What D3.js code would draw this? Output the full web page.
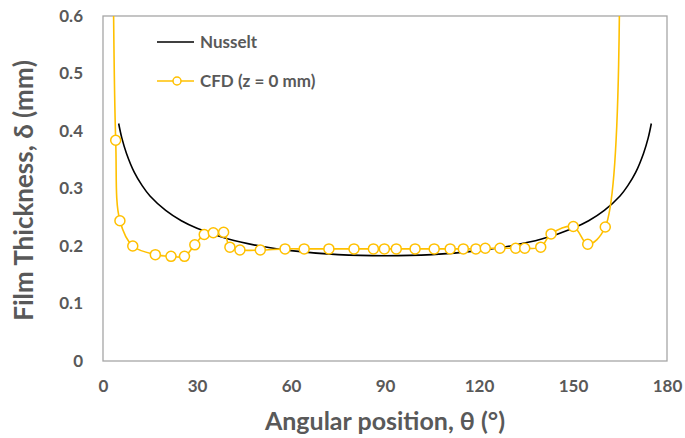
<!DOCTYPE html>
<html>
<head>
<meta charset="utf-8">
<script src="https://cdn.jsdelivr.net/npm/d3@7"></script>
<style>
  body { margin: 0; background: #fff; }
  text { font-family: Lato, "Open Sans", sans-serif; font-weight: bold; fill: #595959; }
</style>
</head>
<body>
<div id="chart"></div>
<script>
// Nusselt solution
var nusseltTheta = [5, 6, 7.5, 10, 12.5, 15, 20, 25, 30, 40, 50, 60, 75, 90, 105, 120, 130, 140, 150, 155, 160, 165, 167.5, 170, 172.5, 174, 175];
var nusseltDelta = [0.413, 0.388, 0.361, 0.328, 0.305, 0.287, 0.262, 0.244, 0.231, 0.212, 0.200, 0.192, 0.185, 0.183, 0.185, 0.192, 0.200, 0.212, 0.231, 0.244, 0.262, 0.287, 0.305, 0.328, 0.361, 0.388, 0.413];

// CFD (z = 0 mm); first and last points lie above the axis range
var cfdTheta = [3.0, 4.05, 5.4, 9.5, 16.7, 21.7, 26.0, 29.3, 32.3, 35.2, 38.5, 40.5, 43.7, 50.2, 58.1, 64.2, 72.1, 80.1, 86.3, 89.8, 93.6, 99.6, 105.7, 110.8, 115.0, 119.0, 122.0, 126.7, 131.7, 134.6, 139.7, 143.0, 150.1, 154.7, 160.3, 164.8];
var cfdDelta = [0.89, 0.384, 0.244, 0.200, 0.185, 0.182, 0.182, 0.202, 0.220, 0.223, 0.224, 0.198, 0.193, 0.193, 0.195, 0.195, 0.195, 0.195, 0.195, 0.195, 0.195, 0.195, 0.195, 0.195, 0.195, 0.195, 0.196, 0.196, 0.196, 0.196, 0.198, 0.221, 0.234, 0.203, 0.233, 0.75];

var xTicks = [0, 30, 60, 90, 120, 150, 180];
var yTicks = [0, 0.1, 0.2, 0.3, 0.4, 0.5, 0.6];

var svgWidth = 685, svgHeight = 438;
var margin = { top: 16, right: 18, bottom: 77, left: 103 };
var width = svgWidth - margin.left - margin.right;
var height = svgHeight - margin.top - margin.bottom;

var svg = d3.select("#chart").append("svg")
    .attr("width", svgWidth)
    .attr("height", svgHeight);

var chartGroup = svg.append("g")
    .attr("transform", `translate(${margin.left}, ${margin.top})`);

var xScale = d3.scaleLinear().domain([0, 180]).range([0, width]);
var yScale = d3.scaleLinear().domain([0, 0.6]).range([height, 0]);

// axes (labels only, no tick marks)
var xAxis = chartGroup.append("g")
    .attr("transform", `translate(0, ${height})`)
    .call(d3.axisBottom(xScale).tickValues(xTicks).tickSize(0).tickPadding(19).tickFormat(d3.format("d")));
var yAxis = chartGroup.append("g")
    .call(d3.axisLeft(yScale).tickValues(yTicks).tickSize(0).tickPadding(20).tickFormat(d => d === 0 ? "0" : d3.format(".1f")(d)));
[xAxis, yAxis].forEach(function(a) {
    a.select(".domain").remove();
    a.selectAll("text").style("font-size", "17px").attr("fill", "#595959");
});

// plot frame
chartGroup.append("rect")
    .attr("width", width).attr("height", height)
    .attr("fill", "none").attr("stroke", "#a6a6a6").attr("stroke-width", 1.3);

chartGroup.append("clipPath").attr("id", "clip")
    .append("rect").attr("width", width).attr("height", height);

var nusselt = nusseltTheta.map((t, i) => [t, nusseltDelta[i]]);
var cfd = cfdTheta.map((t, i) => [t, cfdDelta[i]]);

var line = d3.line()
    .x(d => xScale(d[0]))
    .y(d => yScale(d[1]))
    .curve(d3.curveCatmullRom.alpha(0.5));

var plot = chartGroup.append("g").attr("clip-path", "url(#clip)");

plot.append("path").datum(nusselt)
    .attr("d", line)
    .attr("fill", "none").attr("stroke", "#000").attr("stroke-width", 1.6);

plot.append("path").datum(cfd)
    .attr("d", line)
    .attr("fill", "none").attr("stroke", "#ffc000").attr("stroke-width", 1.6);

plot.selectAll("circle.cfd")
    .data(cfd.filter(d => d[1] <= 0.6))
    .enter().append("circle")
    .attr("class", "cfd")
    .attr("cx", d => xScale(d[0]))
    .attr("cy", d => yScale(d[1]))
    .attr("r", 5)
    .attr("fill", "#fff")
    .attr("stroke", "#ffc000")
    .attr("stroke-width", 1.5);

// legend
var legend = svg.append("g");
legend.append("line").attr("x1", 157).attr("x2", 194).attr("y1", 42).attr("y2", 42)
    .attr("stroke", "#000").attr("stroke-width", 1.6);
legend.append("text").attr("x", 200).attr("y", 42).attr("dy", "0.35em")
    .style("font-size", "17px").text("Nusselt");
legend.append("line").attr("x1", 157).attr("x2", 194).attr("y1", 81).attr("y2", 81)
    .attr("stroke", "#ffc000").attr("stroke-width", 1.6);
legend.append("circle").attr("cx", 177).attr("cy", 81).attr("r", 4)
    .attr("fill", "#fff").attr("stroke", "#ffc000").attr("stroke-width", 1.5);
legend.append("text").attr("x", 200).attr("y", 81).attr("dy", "0.35em")
    .style("font-size", "17px").text("CFD (z = 0 mm)");

// axis titles
svg.append("text")
    .attr("x", margin.left + width / 2).attr("y", 421).attr("dy", "0.35em")
    .style("text-anchor", "middle").style("font-size", "25px")
    .text("Angular position, θ (°)");
svg.append("text")
    .attr("transform", `translate(24, ${margin.top + height / 2 + 2}) rotate(-90)`)
    .attr("dy", "0.35em")
    .style("text-anchor", "middle").style("font-size", "26px")
    .text("Film Thickness, δ (mm)");
</script>
</body>
</html>
